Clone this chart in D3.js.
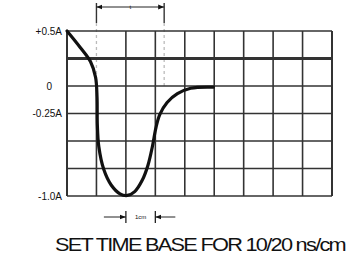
<!DOCTYPE html>
<html>
<head>
<meta charset="utf-8">
<script src="https://cdnjs.cloudflare.com/ajax/libs/d3/7.8.5/d3.min.js"></script>
<style>
body{margin:0;background:#fff;}
text{font-family:"Liberation Sans",Arial,sans-serif;fill:#111;}
</style>
</head>
<body>
<svg id="chart" width="347" height="260"></svg>
<script>
// grid: 9 time divisions, current from -1.0A to +0.5A in 0.25A steps
const xDivs=d3.range(0,10);
const yDivs=[0.5,0.25,0,-0.25,-0.5,-0.75,-1.0];
const yLabels=[{v:0.5,t:"+0.5A",dx:0},{v:0,t:"0",dx:-10},{v:-0.25,t:"-0.25A",dx:0},{v:-1.0,t:"-1.0A",dx:0}];
// pulse trace (x in divisions, y in amps)
const traceX=[0,0.45,0.8,0.97,1.02,1.03,1.08,1.25,1.5,1.8,2.05,2.3,2.55,2.75,2.9,3.02,3.15,3.4,3.75,4.2,4.97];
const traceY=[0.5,0.35,0.22,0.08,-0.1,-0.35,-0.55,-0.76,-0.9,-0.98,-0.995,-0.96,-0.86,-0.72,-0.55,-0.38,-0.26,-0.15,-0.07,-0.02,-0.01];
const tMarker=[1,3.3];   // pulse width bracket "t"
const cmMarker=[2,3];    // 1cm marker

const svg=d3.select("#chart");
const x=d3.scaleLinear().domain([0,9]).range([67,332]);
const y=d3.scaleLinear().domain([-1,0.5]).range([196,31]);

const defs=svg.append("defs");
defs.append("marker").attr("id","ah").attr("viewBox","0 0 10 10").attr("refX",10).attr("refY",5)
  .attr("markerWidth",6).attr("markerHeight",6).attr("orient","auto")
  .append("path").attr("d","M0,1L10,5L0,9Z").attr("fill","#111");

const g=svg.append("g");
// dashed guides for t
tMarker.forEach(v=>{
  g.append("line").attr("x1",x(v)).attr("x2",x(v)).attr("y1",3).attr("y2",y(0.5)-8)
    .attr("stroke","#333").attr("stroke-width",1.4);
  g.append("line").attr("x1",x(v)).attr("x2",x(v)).attr("y1",y(0.5)-8).attr("y2",y(0))
    .attr("stroke","#bbb").attr("stroke-width",1.3).attr("stroke-dasharray","3,3");
});
// vertical grid
xDivs.forEach(v=>{
  const top=v===1?y(0):y(0.5);
  g.append("line").attr("x1",x(v)).attr("x2",x(v)).attr("y1",top).attr("y2",y(-1))
    .attr("stroke","#333").attr("stroke-width",v===0||v===9?2:1.6);
});
// horizontal grid
yDivs.forEach(v=>{
  g.append("line").attr("x1",x(0)).attr("x2",x(9)).attr("y1",y(v)).attr("y2",y(v))
    .attr("stroke","#333").attr("stroke-width",v===0.25?2.8:1.6);
});
// y labels
yLabels.forEach(d=>{
  g.append("text").attr("x",62+d.dx).attr("y",y(d.v)).attr("dy","0.35em")
    .attr("text-anchor","end").style("font-size","10px").text(d.t);
});
// trace
const pts=traceX.map((v,i)=>[v,traceY[i]]);
g.append("path").datum(pts)
  .attr("d",d3.line().x(d=>x(d[0])).y(d=>y(d[1])).curve(d3.curveCatmullRom.alpha(0.5)))
  .attr("fill","none").attr("stroke","#111").attr("stroke-width",3.2).attr("stroke-linecap","round");

// t bracket
const mid=(x(tMarker[0])+x(tMarker[1]))/2;
g.append("line").attr("x1",mid).attr("x2",x(tMarker[0])).attr("y1",7).attr("y2",7)
  .attr("stroke","#222").attr("stroke-width",1).attr("marker-end","url(#ah)");
g.append("line").attr("x1",mid).attr("x2",x(tMarker[1])).attr("y1",7).attr("y2",7)
  .attr("stroke","#222").attr("stroke-width",1).attr("marker-end","url(#ah)");
g.append("text").attr("x",mid).attr("y",7).attr("dy","0.35em").attr("text-anchor","middle")
  .style("font-size","6px").text("t");

// 1cm marker
const by=217;
cmMarker.forEach(v=>{
  g.append("line").attr("x1",x(v)).attr("x2",x(v)).attr("y1",by-6).attr("y2",by+6)
    .attr("stroke","#222").attr("stroke-width",1.3);
});
g.append("line").attr("x1",x(cmMarker[0])-22).attr("x2",x(cmMarker[0])).attr("y1",by).attr("y2",by)
  .attr("stroke","#222").attr("stroke-width",1).attr("marker-end","url(#ah)");
g.append("line").attr("x1",x(cmMarker[1])+20).attr("x2",x(cmMarker[1])).attr("y1",by).attr("y2",by)
  .attr("stroke","#222").attr("stroke-width",1).attr("marker-end","url(#ah)");
g.append("text").attr("x",(x(cmMarker[0])+x(cmMarker[1]))/2).attr("y",by).attr("dy","0.35em")
  .attr("text-anchor","middle").style("font-size","6px").text("1cm");

// caption
g.append("text").attr("x",55).attr("y",251).attr("textLength",290).attr("lengthAdjust","spacingAndGlyphs")
  .style("font-size","19px").style("letter-spacing","-1.5px").text("SET TIME BASE FOR 10/20 ns/cm");
</script>
</body>
</html>
